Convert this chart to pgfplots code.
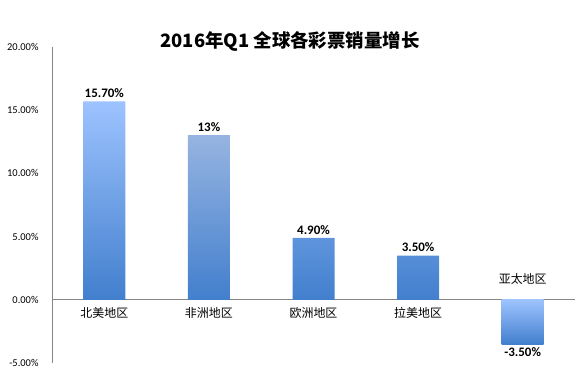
\documentclass[border=0pt]{standalone}
\usepackage{pgfplots}
\pgfplotsset{compat=1.18}
\usepackage{fontspec}
\setmainfont{Carlito}
\newfontfamily\cjk{Noto Sans CJK SC}
\definecolor{bartop}{RGB}{157,195,255}
\definecolor{barbot}{RGB}{66,127,205}
\definecolor{bartwotop}{RGB}{150,180,225}
\definecolor{axgray}{RGB}{134,134,134}
\begin{document}
\begin{tikzpicture}
\begin{axis}[
 scale only axis, width=523bp, height=316bp,
 xmin=-0.5, xmax=4.5, ymin=-5, ymax=20,
 ytick={-5,0,5,10,15,20},
 xtick={0,1,2,3,4},
 xticklabels={{\cjk 北美地区},{\cjk 非洲地区},{\cjk 欧洲地区},{\cjk 拉美地区},{}},
 axis y line=left, axis x line=middle,
 x axis line style={-, draw=axgray, line width=0.8pt},
 y axis line style={-, draw=axgray, line width=0.8pt},
 major tick length=0pt,
 hide obscured y ticks=false,
 hide obscured x ticks=false,
 /pgf/number format/assume math mode=true,
 yticklabel={\pgfmathprintnumber[fixed,fixed zerofill,precision=2,assume math mode=true]{\tick}\%},
 yticklabel style={font=\fontsize{10.5}{12}\selectfont, anchor=east, xshift=-10bp},
 xticklabel style={font=\cjk\fontsize{12}{14}\selectfont, anchor=north, yshift=-4bp},
 ybar, bar width=42bp, bar shift=0pt,
 nodes near coords, point meta=explicit symbolic,
 nodes near coords style={font=\bfseries\fontsize{13}{15}\selectfont, text=black},
 clip=false,
]
\addplot[draw=none, top color=bartop, bottom color=barbot] coordinates {
 (0,15.7) [15.70\%]
 (2,4.9) [4.90\%]
 (3,3.5) [3.50\%]
};
\addplot[draw=none, top color=bartwotop, middle color=barbot, bottom color=barbot] coordinates {
 (1,13) [13\%]
};
\addplot[draw=none, top color=bartop, bottom color=barbot,
 nodes near coords style={anchor=north}] coordinates {
 (4,-3.5) [-3.50\%]
};
\node[font=\cjk\fontsize{12}{14}\selectfont] at (axis cs:4,0) [yshift=21bp] {亚太地区};
\node[font=\cjk\bfseries\fontsize{18.5}{22}\selectfont] at (rel axis cs:0.455,1) [yshift=6bp] {2016年Q1 全球各彩票销量增长};
\coordinate (sw) at (rel axis cs:0,0);
\coordinate (ne) at (rel axis cs:1,1);
\end{axis}
\path[use as bounding box] ([shift={(-52bp,-10bp)}]sw) rectangle ([shift={(3bp,47bp)}]ne);
\end{tikzpicture}
\end{document}
